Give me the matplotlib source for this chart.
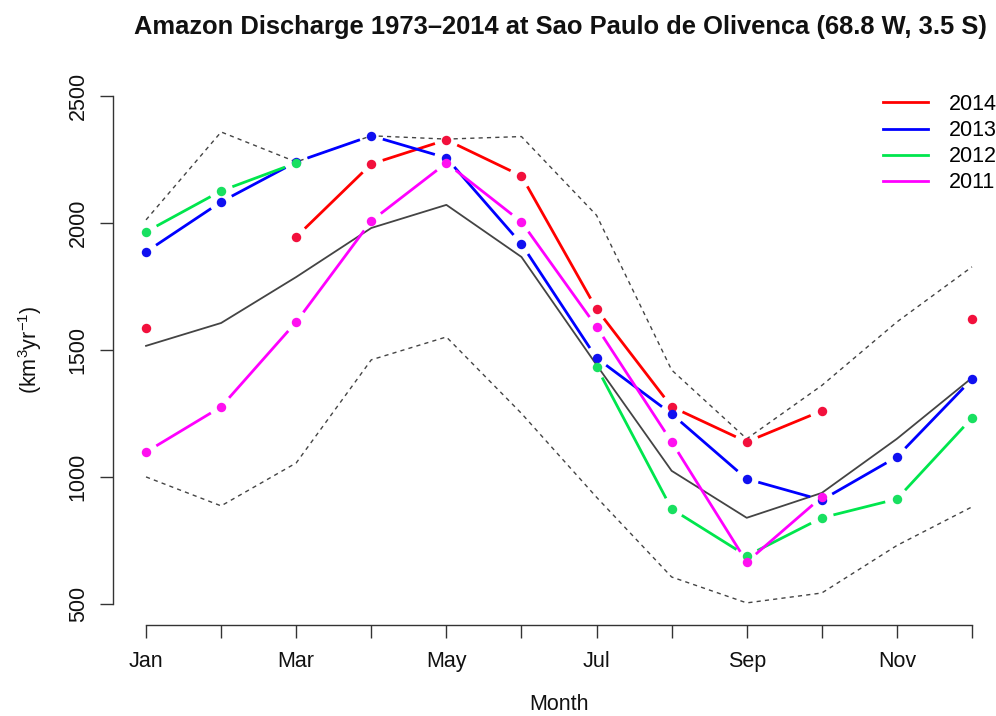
import numpy as np
import matplotlib
matplotlib.use("Agg")
import matplotlib.pyplot as plt
from matplotlib.lines import Line2D

plt.rcParams["font.family"] = ["Liberation Sans", "DejaVu Sans"]
plt.rcParams["mathtext.default"] = "regular"

nan = np.nan

# monthly discharge, km3/yr
months = ["Jan", "Feb", "Mar", "Apr", "May", "Jun",
          "Jul", "Aug", "Sep", "Oct", "Nov", "Dec"]
clim_mean = [1516, 1606, 1787, 1980, 2071, 1866, 1441, 1024, 839, 937, 1150, 1390]
clim_max = [2012, 2358, 2240, 2343, 2330, 2340, 2030, 1421, 1150, 1360, 1610, 1827]
clim_min = [1000, 886, 1055, 1461, 1551, 1250, 920, 606, 504, 543, 730, 882]

years = ["2014", "2013", "2012", "2011"]
q2014 = [1587, nan, 1945, 2232, 2327, 2185, 1661, 1276, 1138, 1260, nan, 1622]
q2013 = [1886, 2083, 2240, 2343, 2256, 1917, 1468, 1248, 992, 909, 1079, 1385]
q2012 = [1965, 2126, 2236, nan, nan, nan, 1433, 874, 689, 839, 913, 1232]
q2011 = [1098, 1276, 1610, 2008, 2236, 2004, 1591, 1138, 665, 921, nan, nan]

line_cols = ["#ff0000", "#0000ff", "#00e64d", "#ff00ff"]
dot_cols = ["#f2103c", "#1010f0", "#18e060", "#ff10f0"]

W, H = 996, 716
fig = plt.figure(figsize=(W / 100, H / 100), dpi=100)
# plot region in pixels: x 113..1005, y 70..625 (from top)
ax = fig.add_axes([113 / W, (H - 625) / H, (1005 - 113) / W, (625 - 70) / H])
ax.set_xlim(0.56, 12.44)
ax.set_ylim(417, 2602)

x = np.arange(1, 13)
ax.plot(x, clim_mean, color="#444444", lw=1.3)
ax.plot(x, clim_max, color="#444444", lw=1.0, ls=(0, (3, 3)))
ax.plot(x, clim_min, color="#444444", lw=1.0, ls=(0, (3, 3)))


def gapped(ax, y, color, dot, gap=12.0):
    # R type="b": segments stop short of each point
    y = np.asarray(y, dtype=float)
    pts = ax.transData.transform(np.column_stack([x, y]))
    inv = ax.transData.inverted()
    for i in range(len(y) - 1):
        if np.isnan(y[i]) or np.isnan(y[i + 1]):
            continue
        d = pts[i + 1] - pts[i]
        n = np.hypot(*d)
        if n <= 2 * gap:
            continue
        u = d / n
        seg = inv.transform(np.array([pts[i] + u * gap, pts[i + 1] - u * gap]))
        ax.plot(seg[:, 0], seg[:, 1], color=color, lw=2.0, solid_capstyle="butt")
    ax.plot(x, y, "o", color=dot, ms=6.8, mec="none")


for q, lc, dc in zip([q2014, q2013, q2012, q2011], line_cols, dot_cols):
    gapped(ax, q, lc, dc)

for s in ["top", "right"]:
    ax.spines[s].set_visible(False)
ax.spines["left"].set_bounds(500, 2500)
ax.spines["bottom"].set_bounds(1, 12)
for s in ["left", "bottom"]:
    ax.spines[s].set_color("#333333")
    ax.spines[s].set_linewidth(1.0)

ax.set_yticks([500, 1000, 1500, 2000, 2500])
ax.set_xticks(x)
ax.set_xticklabels([m if i % 2 == 0 else "" for i, m in enumerate(months)])
ax.tick_params(axis="both", direction="out", length=9.4, width=1.0,
               color="#333333", labelsize=15.5, labelcolor="#111111")
ax.tick_params(axis="x", pad=9)
ax.tick_params(axis="y", pad=8)
for t in ax.get_yticklabels():
    t.set_rotation(90)
    t.set_va("center")

fig.text(30 / W, 1 - 350 / H, "(km$^{3}$yr$^{-1}$)", rotation=90,
         ha="center", va="center", fontsize=15.5, color="#111111")
fig.text(559 / W, 1 - 705 / H, "Month", ha="center", va="center",
         fontsize=15.5, color="#111111")
fig.text(560 / W, 1 - 27 / H,
         "Amazon Discharge 1973\u20132014 at Sao Paulo de Olivenca (68.8 W, 3.5 S)",
         ha="center", va="center", fontsize=18.4, fontweight="bold", color="#111111")

handles = [Line2D([], [], color=c, lw=2.0) for c in line_cols]
ax.legend(handles, years, loc="upper left", frameon=False, fontsize=15.5,
          bbox_to_anchor=(883 / W, 1 - 94 / H), bbox_transform=fig.transFigure,
          borderpad=0, borderaxespad=0, handlelength=2.1, handletextpad=0.95,
          labelspacing=0.24)

fig.savefig("out.png", dpi=100)
